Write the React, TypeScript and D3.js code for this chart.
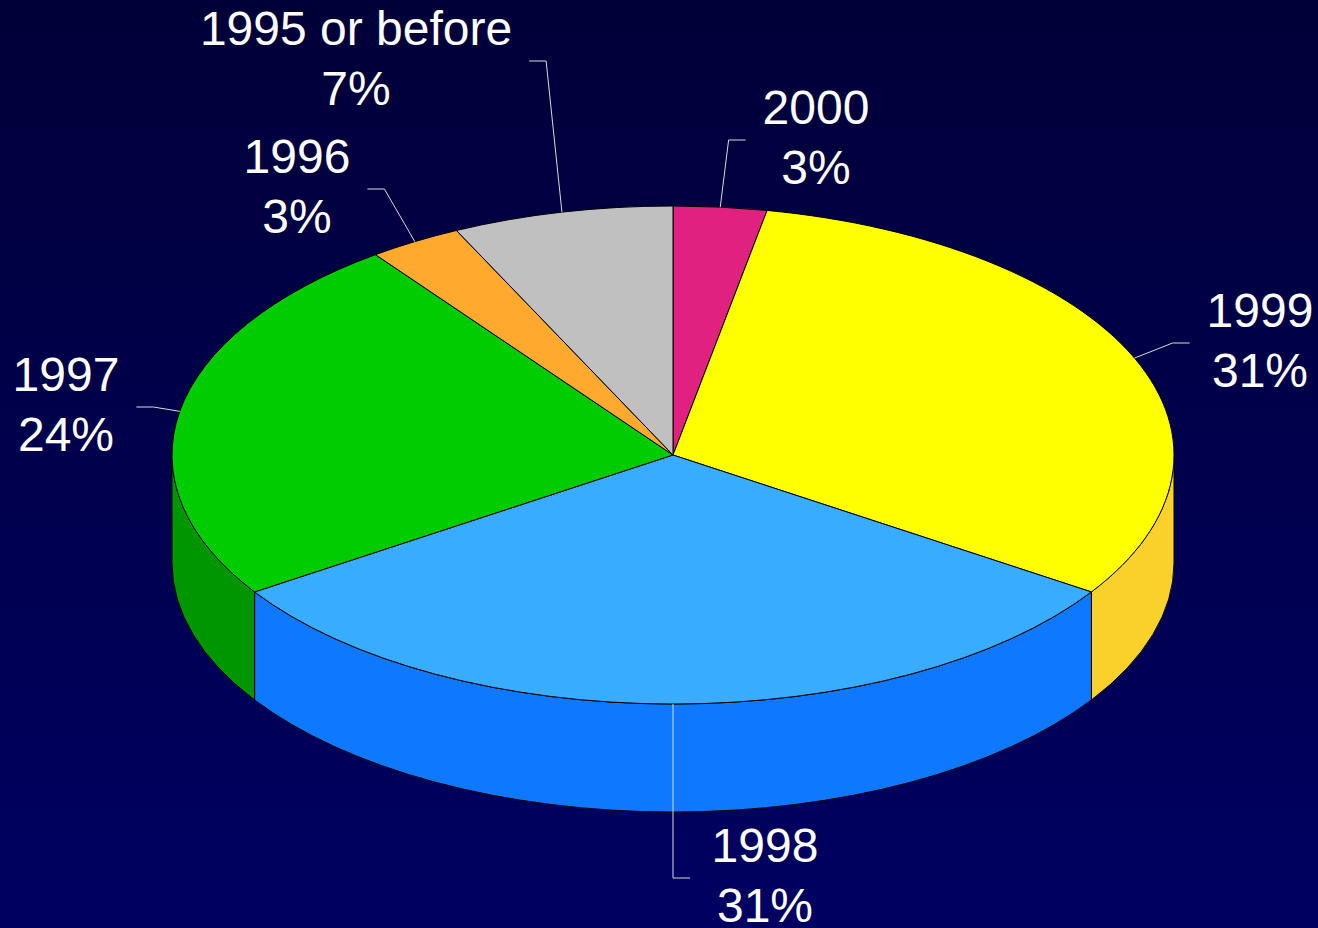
import React, { useEffect, useRef } from "react";
import * as d3 from "d3";

// slices, clockwise from 12 o'clock
const years = ["2000", "1999", "1998", "1997", "1996", "1995 or before"];
const shares = [3, 31.2, 31.4, 24.1, 3, 7.1];
const topColors = ["#E0217F", "#FFFF00", "#38ADFF", "#00CC00", "#FFAA2E", "#C0C0C0"];
const sideColors = ["#A8185F", "#FAD12A", "#0E78FF", "#009600", "#C8821F", "#909090"];

// label placement: text centre x, first baseline y, text right (1) or left (-1) of the leader
const labelSpots: [number, number, number][] = [
  [816, 124, 1],
  [1260, 327, 1],
  [765, 862, 1],
  [66, 391, -1],
  [297, 173, -1],
  [356, 45, -1],
];

export default function App() {
  const svgRef = useRef<SVGSVGElement>(null);

  useEffect(() => {
    const svg = d3.select(svgRef.current);
    svg.selectAll("*").remove();

    const width = 1318;
    const height = 928;
    const cx = 673;
    const cy = 455;
    const rx = 501;
    const ry = 249;
    const depth = 108;

    // background
    const grad = svg
      .append("defs")
      .append("linearGradient")
      .attr("id", "bg")
      .attr("x1", 0)
      .attr("y1", 0)
      .attr("x2", 0)
      .attr("y2", 1);
    grad.append("stop").attr("offset", "0%").attr("stop-color", "#000038");
    grad.append("stop").attr("offset", "100%").attr("stop-color", "#000062");
    svg.append("rect").attr("width", width).attr("height", height).attr("fill", "url(#bg)");

    const data = years.map((year, i) => ({ year, value: shares[i], i }));
    const total = d3.sum(shares);
    const arcs = d3
      .pie<{ year: string; value: number; i: number }>()
      .sort(null)
      .value(d => d.value)(data);

    const pt = (a: number, dy = 0) => [cx + rx * Math.sin(a), cy - ry * Math.cos(a) + dy];

    // front walls (only the half facing the viewer)
    const sides = svg.append("g");
    arcs.forEach(a => {
      const s = Math.max(a.startAngle, Math.PI / 2);
      const e = Math.min(a.endAngle, (3 * Math.PI) / 2);
      if (e <= s) return;
      const [x0, y0] = pt(s);
      const [x1, y1] = pt(e);
      const d = `M${x0},${y0}A${rx},${ry} 0 0 1 ${x1},${y1}L${x1},${y1 + depth}A${rx},${ry} 0 0 0 ${x0},${y0 + depth}Z`;
      sides
        .append("path")
        .attr("d", d)
        .attr("fill", sideColors[a.data.i])
        .attr("stroke", "#000")
        .attr("stroke-width", 1);
    });

    // top faces: a flat pie squashed into an ellipse
    const arc = d3
      .arc<d3.PieArcDatum<{ year: string; value: number; i: number }>>()
      .innerRadius(0)
      .outerRadius(rx);
    svg
      .append("g")
      .attr("transform", `translate(${cx},${cy}) scale(1,${ry / rx})`)
      .selectAll("path")
      .data(arcs)
      .join("path")
      .attr("d", arc)
      .attr("fill", d => topColors[d.data.i])
      .attr("stroke", "#000")
      .attr("stroke-width", 1)
      .attr("vector-effect", "non-scaling-stroke");

    // labels with leader lines
    const labels = svg
      .append("g")
      .attr("font-family", "'Liberation Sans', Arial, sans-serif")
      .attr("font-size", 48)
      .attr("fill", "#fff")
      .attr("text-anchor", "middle");
    const leaders = svg.append("g").attr("fill", "none").attr("stroke", "#DADADA").attr("stroke-width", 1);

    arcs.forEach(a => {
      const [tx, ty, dir] = labelSpots[a.data.i];
      const t = labels.append("text").attr("x", tx).attr("y", ty);
      t.append("tspan").attr("x", tx).text(a.data.year);
      t.append("tspan")
        .attr("x", tx)
        .attr("dy", 60)
        .text(`${Math.round((a.data.value / total) * 100)}%`);
      const w =
        d3.max(t.selectAll<SVGTSpanElement, unknown>("tspan").nodes(), n => n.getComputedTextLength()) || 0;
      const [sx, sy] = pt((a.startAngle + a.endAngle) / 2);
      let endX = dir > 0 ? tx - w / 2 - 17 : tx + w / 2 + 17;
      let elbowX = endX - dir * 17;
      // nearly straight leaders snap to vertical
      if (Math.abs(elbowX - sx) < 8) {
        elbowX = sx;
        endX = sx + dir * 17;
      }
      const elbowY = ty + 16;
      leaders
        .append("polyline")
        .attr("points", `${sx},${sy} ${elbowX},${elbowY} ${endX},${elbowY}`);
    });
  }, []);

  return (
    <svg
      ref={svgRef}
      width={1318}
      height={928}
      style={{ position: "absolute", left: 0, top: 0, display: "block" }}
    />
  );
}
